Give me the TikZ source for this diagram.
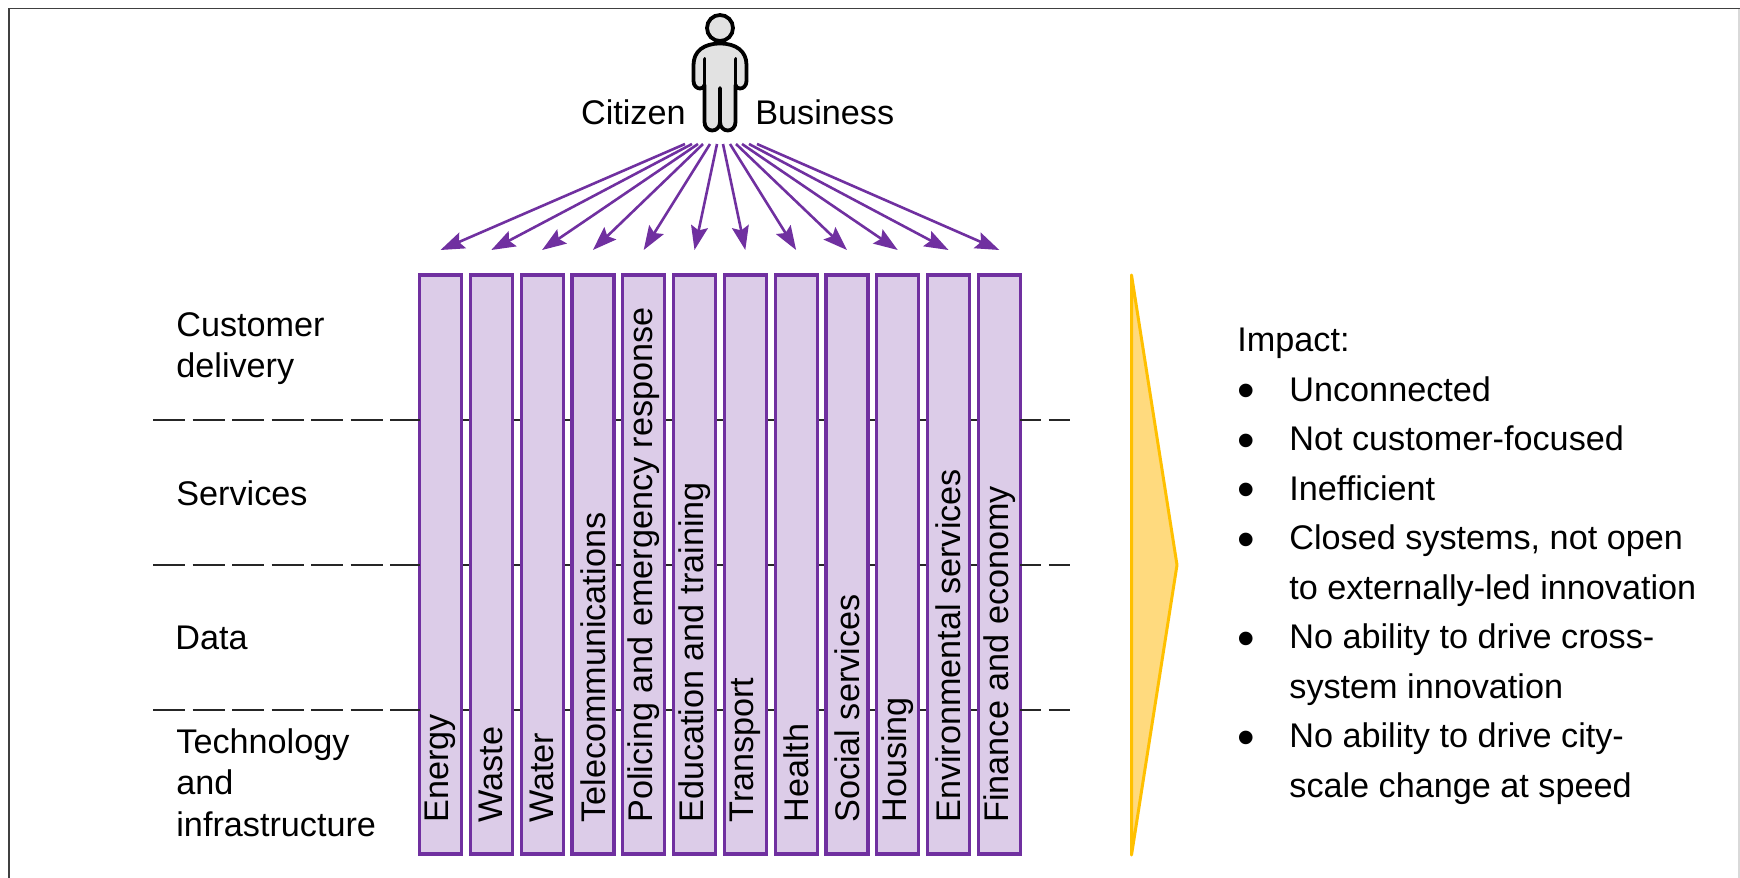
\documentclass[tikz,border=0pt]{standalone}
\usepackage{fontspec}
\setmainfont{Liberation Sans}
\usetikzlibrary{arrows.meta,positioning,backgrounds}

\definecolor{barline}{HTML}{7030A0}
\definecolor{barfill}{HTML}{DCCCE8}
\definecolor{wedgeline}{HTML}{FFC000}
\definecolor{wedgefill}{HTML}{FFDA7E}
\definecolor{bodyfill}{HTML}{E2E2E2}

\newcommand{\impactitem}{\makebox[26pt][l]{\raisebox{-3.1pt}{\fontsize{25}{25}\selectfont\textbullet}}}
\newcommand{\impactgap}{\hspace*{26pt}}

\begin{document}
\begin{tikzpicture}[x=0.5pt,y=-0.5pt,>={Stealth[length=12pt,width=8.5pt,inset=2pt]},
    shorten >=0pt,auto,node distance=4.4pt,
    font=\fontsize{17.1}{20.75}\selectfont,
    bar node/.style={draw=barline,fill=barfill,line width=1.6pt,outer sep=0pt,
        inner sep=0pt,minimum width=21pt,minimum height=289.5pt},
    bar text/.style={rotate=90,anchor=west,inner xsep=15.5pt,inner ysep=0pt,font=\fontsize{17.1}{20}\selectfont},
    layer node/.style={anchor=north west,inner sep=0pt,align=left},
    flow/.style={->,color=barline,line width=1.3pt},
    dash left/.style={draw=black!85,line width=1pt,dash pattern=on 16pt off 3.75pt},
    dash right/.style={draw=black!85,line width=1pt,dash pattern=on 10.5pt off 3.75pt},
    dash gap/.style={draw=black!85,line width=1pt},
    person/.style={draw=black,fill=bodyfill,line width=1.9pt,line join=round,line cap=round}]

    \useasboundingbox (0,0) rectangle (1740,878);

    % frame
    \draw[black!75,line width=0.8pt] (9,878) -- (9,8.5) -- (1740,8.5);
    \draw[black!15,line width=0.7pt] (1739,8.5) -- (1739,878);

    % citizen
    \draw[person] (720,43.5) .. controls (704,43.5) and (693.5,51) .. (693.5,65) -- (693.5,81)
        .. controls (693.5,86) and (697,88.5) .. (700,88.5) .. controls (702.5,88.5) and (704.5,87) .. (704.5,85)
        -- (704.5,122) .. controls (704.5,127) and (708,130.5) .. (712.2,130.5)
        .. controls (716.5,130.5) and (720,127) .. (720,122) -- (720,88) -- (720,122)
        .. controls (720,127) and (723.5,130.5) .. (727.8,130.5) .. controls (732,130.5) and (735.5,127) .. (735.5,122)
        -- (735.5,85) .. controls (735.5,87) and (737.5,88.5) .. (740,88.5)
        .. controls (743,88.5) and (746.5,86) .. (746.5,81) -- (746.5,65)
        .. controls (746.5,51) and (736,43.5) .. (720,43.5) -- cycle;
    \draw[person] (704.5,59) -- (704.5,85);
    \draw[person] (735.5,59) -- (735.5,85);
    \node[circle,draw=black,fill=bodyfill,line width=1.9pt,inner sep=0pt,minimum size=13pt] (head) at (720,28) {};

    \node[anchor=base east,inner sep=0pt] (citizen) at (686,124) {Citizen};
    \node[anchor=base west,inner sep=0pt] (business) at (755,124) {Business};

    % bars
    \node[bar node,label={[bar text]south:Energy}] (b1) at (440.5,564.5) {};
    \node[bar node,label={[bar text]south:Waste}] (b2) [right=of b1] {};
    \node[bar node,label={[bar text]south:Water}] (b3) [right=of b2] {};
    \node[bar node,label={[bar text]south:Telecommunications}] (b4) [right=of b3] {};
    \node[bar node,label={[bar text]south:Policing and emergency response}] (b5) [right=of b4] {};
    \node[bar node,label={[bar text]south:Education and training}] (b6) [right=of b5] {};
    \node[bar node,label={[bar text]south:Transport}] (b7) [right=of b6] {};
    \node[bar node,label={[bar text]south:Health}] (b8) [right=of b7] {};
    \node[bar node,label={[bar text]south:Social services}] (b9) [right=of b8] {};
    \node[bar node,label={[bar text]south:Housing}] (b10) [right=of b9] {};
    \node[bar node,label={[bar text]south:Environmental services}] (b11) [right=of b10] {};
    \node[bar node,label={[bar text]south:Finance and economy}] (b12) [right=of b11] {};

    % arrows
    \coordinate (s1) at (685,144);
    \coordinate (s2) at (692,144);
    \coordinate (s3) at (698,144);
    \coordinate (s4) at (703,144);
    \coordinate (s5) at (710,144);
    \coordinate (s6) at (717,144);
    \coordinate (s7) at (723,144);
    \coordinate (s8) at (730,144);
    \coordinate (s9) at (736,144);
    \coordinate (s10) at (742,144);
    \coordinate (s11) at (749,144);
    \coordinate (s12) at (757,144);

    \coordinate[above=12.5pt of b1] (a1);
    \coordinate[above=12.5pt of b2] (a2);
    \coordinate[above=12.5pt of b3] (a3);
    \coordinate[above=12.5pt of b4] (a4);
    \coordinate[above=12.5pt of b5] (a5);
    \coordinate[above=12.5pt of b6] (a6);
    \coordinate[above=12.5pt of b7] (a7);
    \coordinate[above=12.5pt of b8] (a8);
    \coordinate[above=12.5pt of b9] (a9);
    \coordinate[above=12.5pt of b10] (a10);
    \coordinate[above=12.5pt of b11] (a11);
    \coordinate[above=12.5pt of b12] (a12);

    \path[flow] (s1) edge (a1);
    \path[flow] (s2) edge (a2);
    \path[flow] (s3) edge (a3);
    \path[flow] (s4) edge (a4);
    \path[flow] (s5) edge (a5);
    \path[flow] (s6) edge (a6);
    \path[flow] (s7) edge (a7);
    \path[flow] (s8) edge (a8);
    \path[flow] (s9) edge (a9);
    \path[flow] (s10) edge (a10);
    \path[flow] (s11) edge (a11);
    \path[flow] (s12) edge (a12);

    % layers
    \coordinate (l1) at (153,420);
    \coordinate (l2) at (153,565);
    \coordinate (l3) at (153,710);
    \coordinate (r1) at (1072,420);
    \coordinate (r2) at (1072,565);
    \coordinate (r3) at (1072,710);

    \draw[dash left] (l1) -- (l1 -| b1.west);
    \draw[dash left] (l2) -- (l2 -| b1.west);
    \draw[dash left] (l3) -- (l3 -| b1.west);
    \draw[dash right] (r1 -| b12.east) -- (r1);
    \draw[dash right] (r2 -| b12.east) -- (r2);
    \draw[dash right] (r3 -| b12.east) -- (r3);
    \begin{scope}[on background layer]
        \draw[dash gap] (l1 -| b1.west) -- (r1 -| b12.east);
        \draw[dash gap] (l2 -| b1.west) -- (r2 -| b12.east);
        \draw[dash gap] (l3 -| b1.west) -- (r3 -| b12.east);
    \end{scope}

    \node[layer node] (customer) at (176,312) {Customer\\delivery};
    \node[layer node] (services) at (176,480) {Services};
    \node[layer node] (data) at (175,626) {Data};
    \node[layer node] (technology) at (176,728) {Technology\\and\\infrastructure};

    % impact
    \draw[draw=wedgeline,fill=wedgefill,line width=1.5pt,line join=round]
        (1131.5,275) -- (1177,565) -- (1131.5,855) -- cycle;

    \node[anchor=north west,inner sep=0pt,align=left,font=\fontsize{17.1}{24.75}\selectfont] (impact) at (1237,328) {Impact:\\
        \impactitem Unconnected\\
        \impactitem Not customer-focused\\
        \impactitem Inefficient\\
        \impactitem Closed systems, not open\\
        \impactgap to externally-led innovation\\
        \impactitem No ability to drive cross-\\
        \impactgap system innovation\\
        \impactitem No ability to drive city-\\
        \impactgap scale change at speed};
\end{tikzpicture}
\end{document}
